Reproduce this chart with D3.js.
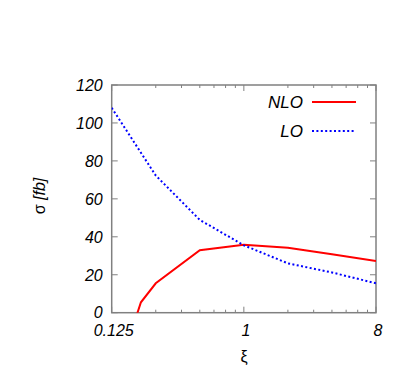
<!DOCTYPE html>
<html>
<head>
<meta charset="utf-8">
<script src="https://cdn.jsdelivr.net/npm/d3@7"></script>
<style>
  body { margin: 0; background: #fff; }
  svg text { font-family: "Liberation Sans", Arial, sans-serif; }
</style>
</head>
<body>
<script>
// values
const xiNLO = [0.125, 0.17, 0.198, 0.25, 0.5, 1, 2, 4, 8];
const sigmaNLO = [-60, -10, 5.5, 15.5, 32.9, 35.8, 34.2, 30.8, 27.2];

const xiLO = [0.125, 0.25, 0.5, 1, 2, 4, 8];
const sigmaLO = [108, 72.3, 48.9, 35.5, 26, 21.2, 15.5];

const xMajor = [0.125, 1, 8];
const xMajorLabels = ["0.125", "1", "8"];
const xMinor = [0.25, 0.375, 0.5, 0.625, 0.75, 0.875, 2, 3, 4, 5, 6, 7];
const yTicks = [0, 20, 40, 60, 80, 100, 120];

const seriesNames = ["NLO", "LO"];

const width = 407, height = 370;
const mLeft = 111.7, mRight = 376, mTop = 85, mBottom = 312.7;

const x = d3.scaleLog().base(2).domain([0.125, 8]).range([mLeft, mRight]);
const y = d3.scaleLinear().domain([0, 120]).range([mBottom, mTop]);

const svg = d3.select("body").append("svg")
    .attr("width", width)
    .attr("height", height);

svg.append("defs").append("clipPath").attr("id", "clip")
  .append("rect")
    .attr("x", mLeft).attr("y", mTop)
    .attr("width", mRight - mLeft).attr("height", mBottom - mTop);

const tickColor = "#808080";
const ticks = svg.append("g").attr("stroke", tickColor).attr("stroke-width", 1);

// x ticks, bottom and top, pointing inward
xMajor.forEach(v => {
  ticks.append("line").attr("x1", x(v)).attr("x2", x(v)).attr("y1", mBottom).attr("y2", mBottom - 6);
  ticks.append("line").attr("x1", x(v)).attr("x2", x(v)).attr("y1", mTop).attr("y2", mTop + 6);
});
xMinor.forEach(v => {
  ticks.append("line").attr("x1", x(v)).attr("x2", x(v)).attr("y1", mBottom).attr("y2", mBottom - 3);
  ticks.append("line").attr("x1", x(v)).attr("x2", x(v)).attr("y1", mTop).attr("y2", mTop + 3);
});
yTicks.forEach(v => {
  ticks.append("line").attr("x1", mLeft).attr("x2", mLeft + 6).attr("y1", y(v)).attr("y2", y(v));
  ticks.append("line").attr("x1", mRight).attr("x2", mRight - 6).attr("y1", y(v)).attr("y2", y(v));
});

svg.append("rect")
    .attr("x", mLeft).attr("y", mTop)
    .attr("width", mRight - mLeft).attr("height", mBottom - mTop)
    .attr("fill", "none")
    .attr("stroke", tickColor)
    .attr("stroke-width", 1.5);

// tick labels
svg.append("g")
  .selectAll("text")
  .data(yTicks)
  .enter().append("text")
    .attr("x", mLeft - 9)
    .attr("y", d => y(d))
    .attr("dy", "0.36em")
    .attr("text-anchor", "end")
    .attr("font-style", "italic")
    .attr("font-size", 16)
    .text(d => d);

svg.append("g")
  .selectAll("text")
  .data(xMajor)
  .enter().append("text")
    .attr("x", d => x(d) + 2)
    .attr("y", mBottom + 23)
    .attr("text-anchor", "middle")
    .attr("font-style", "italic")
    .attr("font-size", 16)
    .text((d, i) => xMajorLabels[i]);

// axis titles
svg.append("text")
    .attr("x", 244)
    .attr("y", 362)
    .attr("text-anchor", "middle")
    .attr("font-size", 16)
    .text("ξ");

const yTitle = svg.append("text")
    .attr("transform", "translate(45,196) rotate(-90)")
    .attr("text-anchor", "middle")
    .attr("font-size", 16);
yTitle.append("tspan").text("σ  ");
yTitle.append("tspan").attr("font-style", "italic").text("[fb]");

// curves
const line = d3.line()
    .x(d => x(d[0]))
    .y(d => y(d[1]));

const plot = svg.append("g").attr("clip-path", "url(#clip)");

plot.append("path")
    .datum(xiNLO.map((v, i) => [v, sigmaNLO[i]]))
    .attr("fill", "none")
    .attr("stroke", "#ff0000")
    .attr("stroke-width", 2)
    .attr("d", line);

plot.append("path")
    .datum(xiLO.map((v, i) => [v, sigmaLO[i]]))
    .attr("fill", "none")
    .attr("stroke", "#0000ff")
    .attr("stroke-width", 2)
    .attr("stroke-dasharray", "2,2.4")
    .attr("d", line);

// legend
const legend = svg.append("g");
const legY = [102, 131];
const legStyle = [{ c: "#ff0000", dash: null }, { c: "#0000ff", dash: "2,2.4" }];
seriesNames.forEach((name, i) => {
  legend.append("text")
      .attr("x", 303)
      .attr("y", legY[i])
      .attr("dy", "0.36em")
      .attr("text-anchor", "end")
      .attr("font-style", "italic")
      .attr("font-size", 17)
      .text(name);
  legend.append("line")
      .attr("x1", 312).attr("x2", 356)
      .attr("y1", legY[i]).attr("y2", legY[i])
      .attr("stroke", legStyle[i].c)
      .attr("stroke-width", 2)
      .attr("stroke-dasharray", legStyle[i].dash);
});
</script>
</body>
</html>
